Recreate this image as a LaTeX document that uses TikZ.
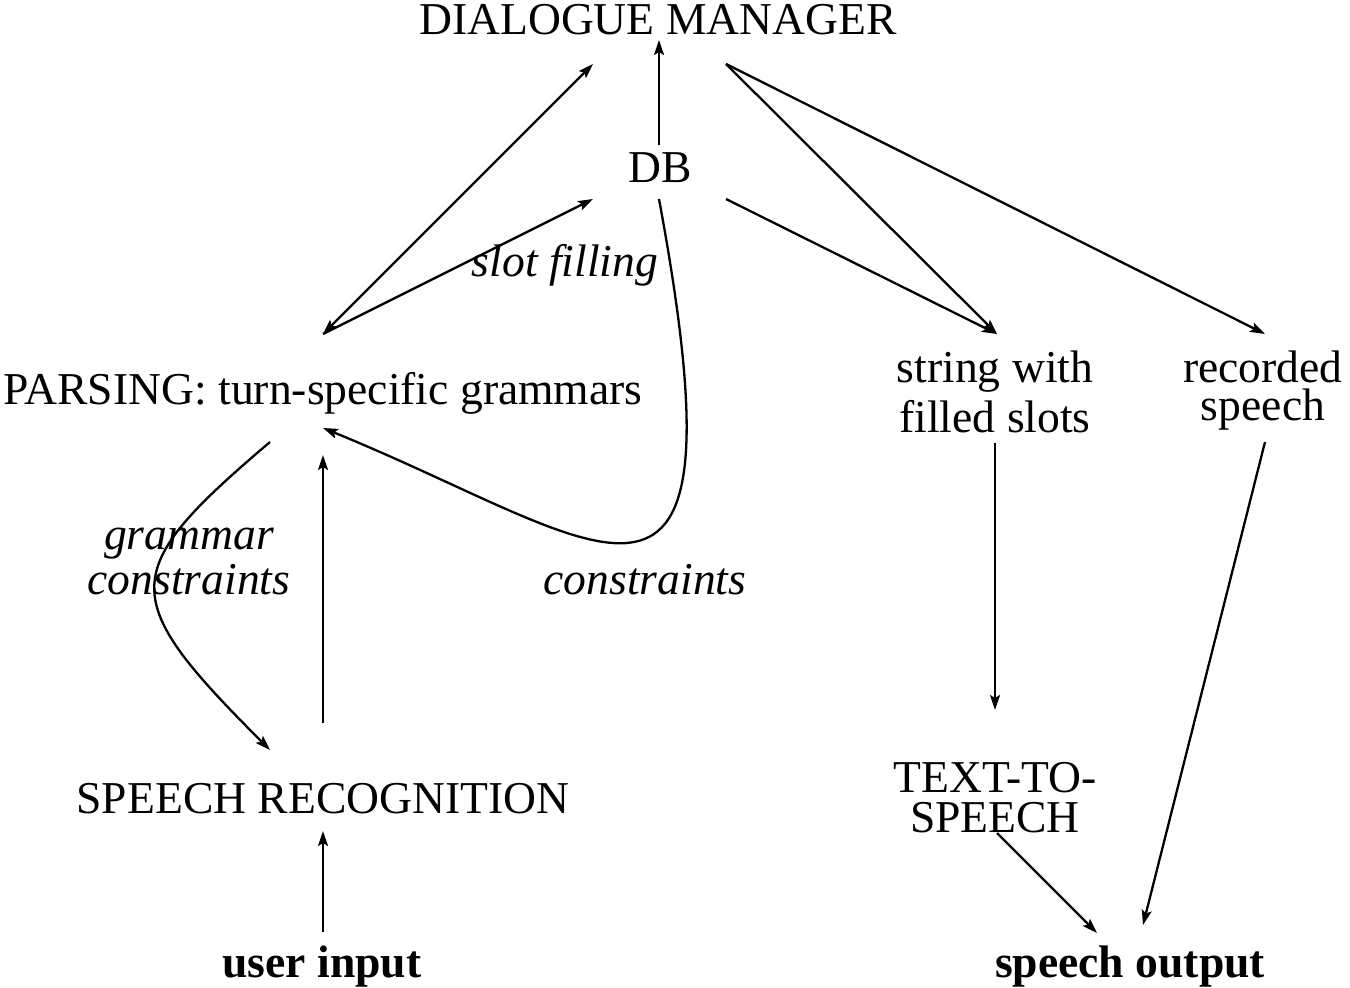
\documentclass[tikz,border=0pt]{standalone}
\usepackage{fontspec}
\setmainfont{Liberation Serif}
\usetikzlibrary{arrows.meta}
\tikzset{>={Stealth[length=7.5pt,width=5pt,inset=1.5pt]}}

\begin{document}
\begin{tikzpicture}[x=0.5pt,y=-0.5pt,
    every node/.style={font=\fontsize{22.8}{25}\selectfont,inner sep=0pt,anchor=base},
    lbl/.style={font=\fontsize{22.8}{25}\selectfont\itshape},
    io/.style={font=\fontsize{22.8}{25}\selectfont\bfseries},
    conn/.style={->,line width=1.15pt}]
    \useasboundingbox (0,0) rectangle (1350,988);
    % set up the nodes
    \node (dm) at (658,35) {DIALOGUE MANAGER};
    \node (db) at (660,183) {DB};
    \node (pars) at (323,405) {PARSING: turn-specific grammars};
    \node (sr) at (323,813) {SPEECH RECOGNITION};
    \node[io] (user) at (322,977) {user input};
    \node[align=center] (strg) at (995,433) {string with\\filled slots};
    \node[align=center] (rec) at (1263,421) {recorded\\[-6pt]speech};
    \node[align=center] (tts) at (995,832) {TEXT-TO-\\[-5pt]SPEECH};
    \node[io] (out) at (1130,977) {speech output};
    % labels on the connectors
    \node[lbl] (slot) at (565,277) {slot filling};
    \node[lbl,align=center] (gram) at (189,595) {grammar\\[-2.5pt]constraints};
    \node[lbl] (cons) at (645,595) {constraints};
    % draw arrows between them
    \draw[conn] ([shift={(-1,-38)}]db.base) -- ([shift={(1,5)}]dm.base);
    \draw[conn,<->] ([shift={(0,-71)}]pars.base) -- ([shift={(-65,29)}]dm.base);
    \draw[conn] ([shift={(0,-71)}]pars.base) -- ([shift={(-67,16)}]db.base);
    \draw[conn] ([shift={(68,29)}]dm.base) -- ([shift={(2,-99)}]strg.base);
    \draw[conn] ([shift={(68,29)}]dm.base) -- ([shift={(2,-87)}]rec.base);
    \draw[conn] ([shift={(66,16)}]db.base) -- ([shift={(2,-99)}]strg.base);
    \draw[conn] ([shift={(-1,16)}]db.base) .. controls (750,690) and (610,545) .. ([shift={(0,23)}]pars.base);
    \draw[conn] ([shift={(-53,37)}]pars.base) .. controls (117,572) and (117,597) .. ([shift={(-53,-63)}]sr.base);
    \draw[conn] ([shift={(0,-90)}]sr.base) -- ([shift={(0,50)}]pars.base);
    \draw[conn] ([shift={(1,-45)}]user.base) -- ([shift={(0,18)}]sr.base);
    \draw[conn] ([shift={(0,10)}]strg.base) -- ([shift={(0,-122)}]tts.base);
    \draw[conn] ([shift={(2,1)}]tts.base) -- ([shift={(-33,-44)}]out.base);
    \draw[conn] ([shift={(2,21)}]rec.base) -- ([shift={(13,-52)}]out.base);
\end{tikzpicture}
\end{document}
